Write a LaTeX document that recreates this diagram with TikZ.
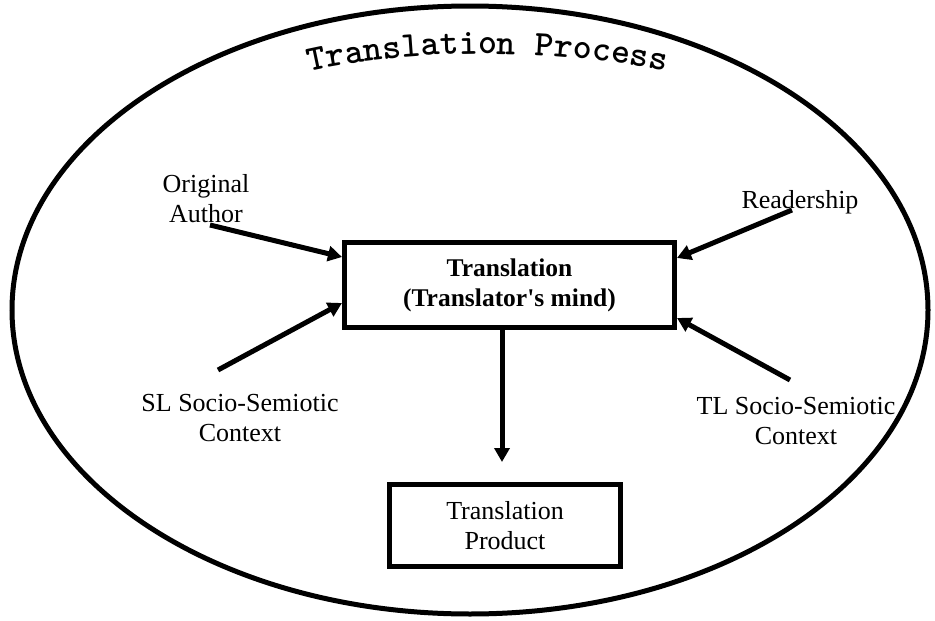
\documentclass[tikz,border=0pt]{standalone}
\usepackage{fontspec}
\setmainfont{Liberation Serif}
\usetikzlibrary{arrows.meta,decorations.text,calc}

\begin{document}
\begin{tikzpicture}[x=1pt, y=1pt,
    box/.style={draw, line width=5pt, align=center, inner sep=0pt},
    lbl/.style={align=center, font=\fontsize{26}{30}\selectfont},
    feed/.style={line width=5pt, -{Triangle[length=14pt,width=15pt]}}]

    \useasboundingbox (0,0) rectangle (935,-621);

    % outer ellipse and its title
    \draw[line width=5pt] (470,-310) ellipse [x radius=458, y radius=304];
    \path[decorate, decoration={text along path, text align=center,
        text={|\ttfamily\bfseries\fontsize{36}{40}\selectfont|Translation Process}}]
        (295,-75) .. controls (400,-47) and (570,-47) .. (680,-75);

    % the two boxes
    \node[box, lbl, font=\fontsize{25.5}{30}\selectfont\bfseries,
          minimum width=330pt, minimum height=85pt] (mind) at (509.5,-285)
          {Translation\\(Translator\textquotesingle s mind)};
    \node[box, lbl, minimum width=231pt, minimum height=82pt] (product) at (505,-525.5)
          {Translation\\Product};

    % the four sources round the box
    \node[lbl] (author) at (206,-199) {Original\\Author};
    \node[lbl, anchor=base] (reader) at (800,-208) {Readership};
    \node[lbl] (slctx) at (240,-418) {SL Socio-Semiotic\\Context};
    \node[lbl] (tlctx) at (796,-421) {TL Socio-Semiotic\\Context};

    % start points of the arrows
    \coordinate (authorFrom) at (210,-225);
    \coordinate (readerFrom) at (792,-210);
    \coordinate (slFrom) at (218,-370);
    \coordinate (tlFrom) at (790,-380);
    \coordinate (down) at (502,-462);

    \draw[feed] (authorFrom) -- ($(mind.west)+(0,28)$);
    \draw[feed] (slFrom) -- ($(mind.west)+(0,-18)$);
    \draw[feed] (readerFrom) -- ($(mind.east)+(0,27)$);
    \draw[feed] (tlFrom) -- ($(mind.east)+(0,-33)$);
    \draw[feed] (mind.south -| down) -- (down);

\end{tikzpicture}
\end{document}
